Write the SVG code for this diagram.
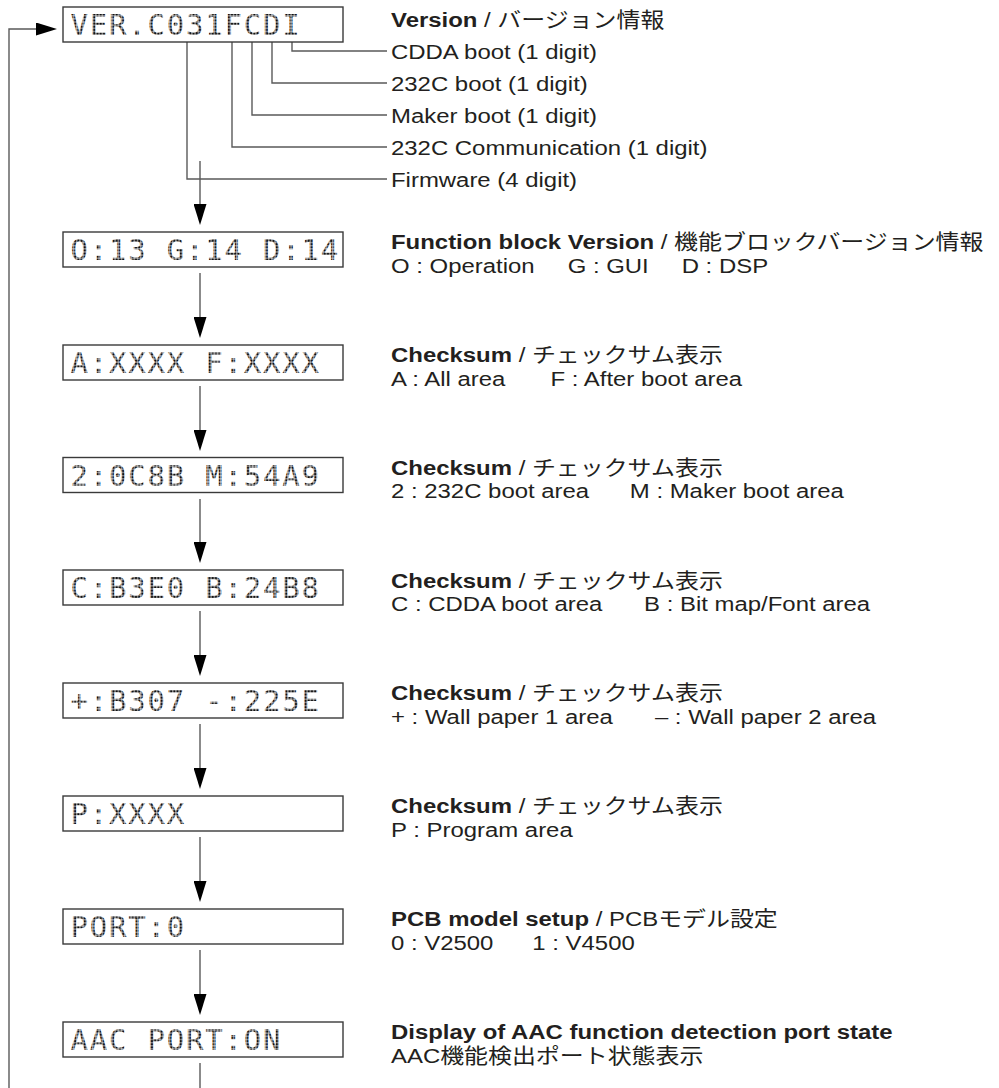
<svg xmlns="http://www.w3.org/2000/svg" width="999" height="1088" viewBox="0 0 999 1088">
  <defs>
    <style>
      .lbl { font-family: "Liberation Sans", "Noto Sans CJK JP", sans-serif; font-size: 21px; fill: #231f20; }
      .b { font-weight: bold; }
      .lcd { font-family: "DejaVu Sans Mono", "Liberation Mono", monospace; font-size: 29px; letter-spacing: 1.8px; fill: url(#dots); }
      .box { fill: #ffffff; stroke: #3a3a3a; stroke-width: 1.4; }
      .ln { fill: none; stroke: #5a5a5a; stroke-width: 1.4; }
      .arr { fill: none; stroke: #5a5a5a; stroke-width: 1.4; marker-end: url(#ah); }
    </style>
    <pattern id="dots" width="3.2" height="3.15" patternUnits="userSpaceOnUse">
      <rect x="0.3" y="0.3" width="2.5" height="2.5" fill="#111111"/>
    </pattern>
    <marker id="ah" markerWidth="21" markerHeight="13" refX="17" refY="6.5" orient="auto" markerUnits="userSpaceOnUse">
      <path d="M0,0 L21,6.5 L0,13 Z" fill="#000"/>
    </marker>
  </defs>

  <g id="connectors">
    <polyline class="arr" points="9,1088 9,29 53,29"/>
    <polyline class="ln" points="292,42 292,51 387,51"/>
    <polyline class="ln" points="272,42 272,83 387,83"/>
    <polyline class="ln" points="252,42 252,115 387,115"/>
    <polyline class="ln" points="232,42 232,147 387,147"/>
    <polyline class="ln" points="187,42 187,179 387,179"/>
    <line class="arr" x1="200" y1="161" x2="200" y2="221"/>
    <line class="arr" x1="200" y1="273" x2="200" y2="334"/>
    <line class="arr" x1="200" y1="386" x2="200" y2="447"/>
    <line class="arr" x1="200" y1="499" x2="200" y2="559"/>
    <line class="arr" x1="200" y1="611" x2="200" y2="672"/>
    <line class="arr" x1="200" y1="724" x2="200" y2="785"/>
    <line class="arr" x1="200" y1="837" x2="200" y2="898"/>
    <line class="arr" x1="200" y1="950" x2="200" y2="1011"/>
    <line class="ln" x1="200" y1="1063" x2="200" y2="1088"/>
  </g>

  <g id="node-version">
    <rect class="box" x="63" y="7" width="280" height="35"/>
    <text class="lcd" x="70.5" y="35">VER.C031FCDI</text>
    <g transform="translate(391,0) scale(1.14,1)">
      <text class="lbl" x="0" y="27"><tspan class="b">Version</tspan> / バージョン情報</text>
      <text class="lbl" x="0" y="59">CDDA boot (1 digit)</text>
      <text class="lbl" x="0" y="91">232C boot (1 digit)</text>
      <text class="lbl" x="0" y="123">Maker boot (1 digit)</text>
      <text class="lbl" x="0" y="155">232C Communication (1 digit)</text>
      <text class="lbl" x="0" y="187">Firmware (4 digit)</text>
    </g>
  </g>

  <g id="node-function-block">
    <rect class="box" x="63" y="232" width="280" height="35"/>
    <text class="lcd" x="70.5" y="260">O:13 G:14 D:14</text>
    <g transform="translate(391,0) scale(1.14,1)">
      <text class="lbl" x="0" y="249.5"><tspan class="b">Function block Version</tspan> / 機能ブロックバージョン情報</text>
      <text class="lbl" y="273"><tspan x="0">O : Operation</tspan><tspan x="155">G : GUI</tspan><tspan x="255">D : DSP</tspan></text>
    </g>
  </g>

  <g id="node-checksum-af">
    <rect class="box" x="63" y="345" width="280" height="35"/>
    <text class="lcd" x="70.5" y="373">A:XXXX  F:XXXX</text>
    <g transform="translate(391,0) scale(1.14,1)">
      <text class="lbl" x="0" y="362.5"><tspan class="b">Checksum</tspan> / チェックサム表示</text>
      <text class="lbl" y="386"><tspan x="0">A : All area</tspan><tspan x="140">F : After boot area</tspan></text>
    </g>
  </g>

  <g id="node-checksum-2m">
    <rect class="box" x="63" y="457.5" width="280" height="35"/>
    <text class="lcd" x="70.5" y="485.5">2:0C8B  M:54A9</text>
    <g transform="translate(391,0) scale(1.14,1)">
      <text class="lbl" x="0" y="475"><tspan class="b">Checksum</tspan> / チェックサム表示</text>
      <text class="lbl" y="498.5"><tspan x="0">2 : 232C boot area</tspan><tspan x="209.5">M : Maker boot area</tspan></text>
    </g>
  </g>

  <g id="node-checksum-cb">
    <rect class="box" x="63" y="570" width="280" height="35"/>
    <text class="lcd" x="70.5" y="598">C:B3E0  B:24B8</text>
    <g transform="translate(391,0) scale(1.14,1)">
      <text class="lbl" x="0" y="587.5"><tspan class="b">Checksum</tspan> / チェックサム表示</text>
      <text class="lbl" y="611"><tspan x="0">C : CDDA boot area</tspan><tspan x="222">B : Bit map/Font area</tspan></text>
    </g>
  </g>

  <g id="node-checksum-wall">
    <rect class="box" x="63" y="683" width="280" height="35"/>
    <text class="lcd" x="70.5" y="711">+:B307  -:225E</text>
    <g transform="translate(391,0) scale(1.14,1)">
      <text class="lbl" x="0" y="700.5"><tspan class="b">Checksum</tspan> / チェックサム表示</text>
      <text class="lbl" y="724"><tspan x="0">+ : Wall paper 1 area</tspan><tspan x="231.5">– : Wall paper 2 area</tspan></text>
    </g>
  </g>

  <g id="node-checksum-p">
    <rect class="box" x="63" y="796" width="280" height="35"/>
    <text class="lcd" x="70.5" y="824">P:XXXX</text>
    <g transform="translate(391,0) scale(1.14,1)">
      <text class="lbl" x="0" y="813.5"><tspan class="b">Checksum</tspan> / チェックサム表示</text>
      <text class="lbl" x="0" y="837">P : Program area</text>
    </g>
  </g>

  <g id="node-pcb">
    <rect class="box" x="63" y="909" width="280" height="35"/>
    <text class="lcd" x="70.5" y="937">PORT:0</text>
    <g transform="translate(391,0) scale(1.14,1)">
      <text class="lbl" x="0" y="926.5"><tspan class="b">PCB model setup</tspan> / PCBモデル設定</text>
      <text class="lbl" y="950"><tspan x="0">0 : V2500</tspan><tspan x="124">1 : V4500</tspan></text>
    </g>
  </g>

  <g id="node-aac">
    <rect class="box" x="63" y="1022" width="280" height="35"/>
    <text class="lcd" x="70.5" y="1050">AAC PORT:ON</text>
    <g transform="translate(391,0) scale(1.14,1)">
      <text class="lbl b" x="0" y="1039.5">Display of AAC function detection port state</text>
      <text class="lbl" x="0" y="1063">AAC機能検出ポート状態表示</text>
    </g>
  </g>
</svg>
